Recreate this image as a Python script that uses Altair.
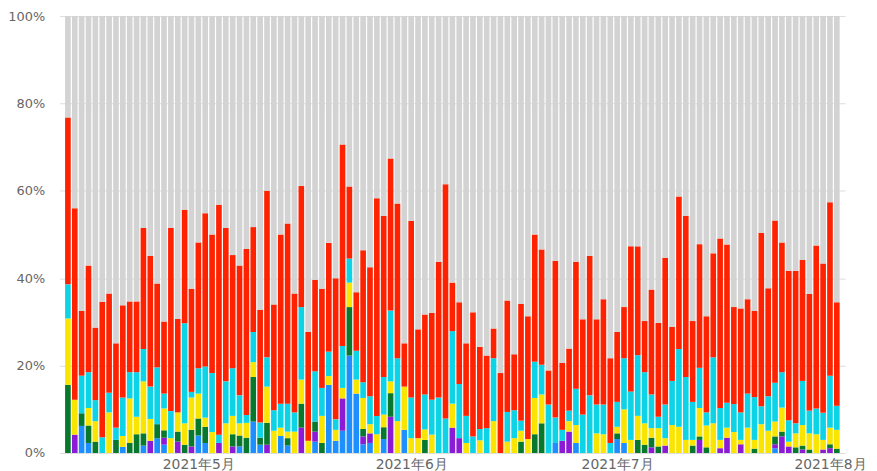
import altair as alt
import pandas as pd

start_date = "2021-04-12"
n_days = 113

series_names = ["蓝", "紫", "绿", "黄", "青", "红", "其他"]
series_colors = ["#1e8fff", "#8c1bd6", "#07782c", "#fae500", "#0dd3e6", "#ff2200", "#d3d3d3"]

blue = [0, 0, 6.2, 2.3, 0, 0, 0, 0, 1.4, 0,
        0, 1.7, 0, 3.4, 1.9, 0, 0, 0, 0, 4.0,
        2.3, 0, 0, 0, 0, 1.5, 0, 7.2, 1.9, 0,
        0, 3.9, 1.7, 0, 0, 0, 2.6, 0, 15.6, 2.8,
        5.1, 22.3, 13.6, 2.0, 2.3, 0, 3.2, 0, 0, 5.3,
        0, 0, 0, 0, 0, 0, 0, 0, 0, 0,
        0, 0, 0, 0, 0, 0, 0, 0, 0, 0,
        0, 2.3, 0, 0, 2.3, 0, 0, 0, 0, 0,
        3.2, 2.3, 0, 0, 0, 0, 0, 0, 0, 0,
        0, 0, 0, 0, 0, 0, 0, 0, 0, 0,
        0, 0, 0, 1.1, 0, 0, 0, 0, 0, 0,
        0, 0, 0]

purple = [0, 4.2, 0, 0, 0, 0, 0, 0, 0, 0,
          0, 0, 2.8, 0, 1.6, 0, 2.6, 0, 1.5, 0,
          0, 0, 2.3, 0, 1.5, 0, 0, 0, 0, 1.9,
          0, 0, 0, 0, 5.8, 0, 2.3, 0, 0, 0,
          7.4, 0, 0, 1.8, 2.2, 0, 0, 8.3, 0, 0,
          0, 0, 0, 0, 0, 0, 5.8, 3.4, 0, 0,
          0, 0, 0, 0, 0, 0, 0, 0, 0, 0,
          0, 0, 2.8, 4.9, 0, 0, 0, 0, 0, 0,
          0, 0, 0, 0, 0, 1.3, 0, 1.7, 0, 0,
          0, 0, 3.0, 0, 0, 1.1, 3.5, 0, 2.0, 0,
          0, 0, 0, 0.9, 3.8, 1.5, 0, 0.8, 0, 0,
          0.8, 1.1, 0]

green = [15.6, 0, 2.9, 4.0, 2.6, 0, 0, 3.0, 0, 2.3,
         4.3, 2.8, 0, 3.2, 1.7, 0, 2.3, 1.9, 3.8, 3.9,
         3.7, 0, 0, 0, 2.8, 2.5, 3.5, 10.2, 1.6, 5.0,
         0, 0, 1.7, 0, 5.5, 0, 2.3, 2.3, 0, 0,
         0, 11.1, 0, 1.7, 0, 0, 2.7, 5.4, 0, 0,
         0, 0, 3.0, 0, 0, 0, 0, 0, 0, 0,
         0, 0, 0, 0, 0, 0, 2.6, 0, 4.3, 6.8,
         0, 0, 0, 0, 0, 0, 0, 0, 0, 0,
         1.3, 0, 0, 3.0, 1.9, 2.2, 1.5, 0, 0, 0,
         0, 1.7, 0.8, 1.3, 0, 0, 0, 0, 0, 0,
         1.0, 0, 0, 1.8, 1.1, 0, 1.3, 0.9, 0.8, 0,
         0, 0.9, 1.0]

yellow = [15.2, 8.0, 0, 4.0, 4.7, 0, 9.3, 0, 2.5, 10.2,
          4.0, 11.9, 5.0, 0, 5.0, 3.4, 4.4, 4.9, 7.4, 5.7,
          2.1, 4.8, 0, 6.8, 4.2, 2.8, 3.4, 3.4, 0, 8.3,
          5.1, 1.9, 1.5, 4.9, 5.5, 2.8, 0, 6.2, 2.0, 2.5,
          2.4, 5.6, 3.2, 7.1, 2.1, 4.3, 2.9, 2.7, 7.3, 9.9,
          3.4, 3.4, 2.4, 4.2, 0, 0, 5.5, 0, 2.3, 0,
          2.9, 0, 7.3, 0, 2.6, 3.4, 2.5, 3.2, 8.3, 6.6,
          0, 0, 0, 2.4, 4.1, 0, 0, 4.5, 4.3, 0,
          1.5, 7.7, 3.0, 5.5, 4.9, 2.2, 4.2, 1.7, 6.4, 6.0,
          3.0, 1.3, 6.5, 5.0, 6.8, 1.9, 2.3, 4.8, 1.0, 5.8,
          2.0, 6.6, 5.1, 3.4, 5.5, 1.1, 3.2, 4.7, 3.7, 4.3,
          2.2, 3.8, 4.3]

cyan = [7.8, 0, 8.6, 8.2, 4.8, 3.6, 4.5, 2.8, 8.8, 6.0,
        10.2, 7.4, 7.4, 13.0, 3.4, 6.2, 0, 22.9, 1.3, 5.8,
        11.7, 13.5, 1.9, 9.6, 10.9, 6.4, 1.8, 6.9, 3.5, 6.7,
        4.7, 5.5, 6.4, 4.4, 16.6, 0, 11.5, 6.4, 5.6, 2.4,
        9.6, 5.5, 6.6, 3.6, 6.4, 4.2, 8.6, 16.2, 14.4, 0,
        9.3, 0, 8.0, 8.0, 12.7, 7.9, 16.6, 12.4, 6.2, 3.8,
        2.6, 5.7, 14.4, 0, 6.8, 6.4, 2.3, 0, 8.3, 6.8,
        11.1, 5.8, 2.5, 2.4, 8.3, 8.8, 13.2, 6.6, 6.8, 2.3,
        5.7, 11.7, 11.1, 13.9, 11.7, 7.7, 2.6, 7.7, 10.1, 17.8,
        14.4, 8.7, 9.2, 3.0, 15.1, 7.3, 5.7, 6.4, 6.3, 7.8,
        9.8, 4.1, 7.9, 8.9, 8.1, 4.9, 2.3, 10.1, 5.2, 5.9,
        6.2, 11.9, 5.5]

red = [38.2, 43.8, 14.8, 24.4, 16.6, 31.0, 22.7, 19.3, 21.1, 16.2,
       16.2, 27.7, 29.9, 19.2, 16.5, 41.9, 21.4, 26.0, 23.6, 28.8,
       35.1, 31.7, 52.6, 35.1, 25.9, 29.7, 38.0, 24.0, 25.8, 38.1,
       24.2, 38.7, 41.2, 27.2, 27.7, 24.9, 20.9, 22.7, 24.9, 32.3,
       46.1, 16.5, 13.4, 30.2, 29.5, 49.8, 36.9, 34.8, 35.4, 9.9,
       40.4, 24.9, 18.3, 19.9, 31.1, 53.6, 11.1, 18.7, 16.6, 28.4,
       18.8, 16.6, 6.8, 18.3, 25.5, 12.8, 26.7, 28.1, 29.1, 26.4,
       7.8, 35.9, 15.3, 14.2, 29.1, 21.8, 31.9, 19.5, 24.1, 19.4,
       16.0, 11.7, 33.2, 24.9, 11.7, 24.0, 21.5, 33.6, 12.4, 34.9,
       36.9, 18.5, 28.3, 22.0, 23.8, 38.8, 36.2, 22.2, 23.8, 21.6,
       19.7, 39.7, 24.7, 37.1, 29.7, 34.2, 34.9, 27.7, 26.7, 37.3,
       34.2, 39.7, 23.7]

month_ticks = [5, 6, 7, 8]

series_values = [blue, purple, green, yellow, cyan, red]
dates = pd.date_range(start_date, periods=n_days, freq="D").strftime("%Y-%m-%dT00:00:00")

rows = []
for i, d in enumerate(dates):
    total = 0.0
    for k, vals in enumerate(series_values):
        rows.append({"date": d, "series": series_names[k], "value": vals[i], "ord": k})
        total += vals[i]
    rows.append({"date": d, "series": series_names[6], "value": round(100 - total, 1), "ord": 6})
df = pd.DataFrame(rows)

chart = alt.Chart(df).mark_bar(size=5.7).encode(
    x=alt.X(
        "date:T",
        title=None,
        scale=alt.Scale(domain=[alt.DateTime(year=2021, month=4, date=11, hours=12),
                                alt.DateTime(year=2021, month=8, date=2, hours=12)]),
        axis=alt.Axis(
            values=[alt.DateTime(year=2021, month=m, date=1) for m in month_ticks],
            format="%Y年%-m月",
            domain=False, ticks=False, grid=False,
            labelPadding=5, labelFontSize=14, labelColor="#666666",
            labelFont="DejaVu Sans", labelFlush=False,
        ),
    ),
    y=alt.Y(
        "value:Q",
        stack="normalize",
        title=None,
        scale=alt.Scale(domain=[0, 1]),
        axis=alt.Axis(
            values=[0, 0.2, 0.4, 0.6, 0.8, 1.0], format=".0%",
            domain=False, ticks=False, tickSize=0,
            labelPadding=15, labelFontSize=13, labelColor="#666666",
            labelFont="DejaVu Sans", gridColor="#dddddd",
        ),
    ),
    color=alt.Color("series:N", scale=alt.Scale(domain=series_names, range=series_colors), legend=None),
    order=alt.Order("ord:Q", sort="ascending"),
).properties(
    width=793,
    height=441,
    autosize=alt.AutoSizeParams(type="none"),
    padding={"left": 52, "top": 6, "right": 24, "bottom": 16},
).configure_view(stroke=None)

chart.save("out.html", embed_options={"renderer": "svg", "actions": False})
